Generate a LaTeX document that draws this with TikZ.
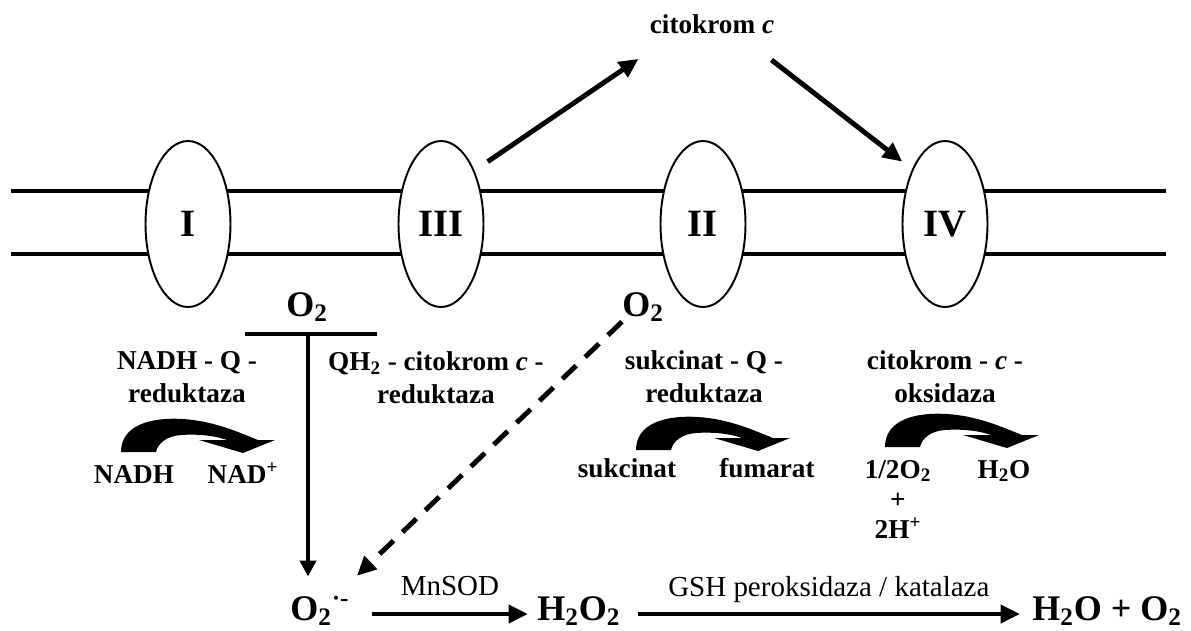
\documentclass[tikz,border=0pt]{standalone}
\usepackage{fontspec}
\setmainfont{Liberation Serif}
\usetikzlibrary{arrows.meta,shapes.geometric}

\begin{document}
\begin{tikzpicture}[x=0.02cm,y=-0.02cm,
  lbl/.style={font=\fontsize{15.5}{18.8}\selectfont\bfseries,align=center,inner sep=0pt},
  chem/.style={font=\fontsize{20.5}{24}\selectfont\bfseries,inner sep=0pt},
  enz/.style={font=\fontsize{16.5}{20}\selectfont,inner sep=0pt},
  complex/.style={draw,ellipse,line width=1.1pt,fill=white,minimum width=1.7cm,
    minimum height=3.32cm,inner sep=0pt,font=\fontsize{22}{26}\selectfont\bfseries},
  membrane/.style={line width=2.3pt},
  flow/.style={line width=2.8pt,-{Triangle[length=11pt,width=10pt]}},
  redox/.pic={\fill (0,0) .. controls (0,-27) and (30,-35) .. (62,-33)
    .. controls (93,-31) and (117,-20) .. (137,-12) -- (154,-12) -- (122,1)
    -- (78,-12) -- (106,-12) .. controls (92,-17) and (74,-18) .. (60,-17)
    .. controls (46,-16) and (37,-9) .. (35,0) -- cycle;}]

  \useasboundingbox (0,0) rectangle (1191,630);

  % membrane with the four complexes
  \draw[membrane] (11,191) -- (1166,191);
  \draw[membrane] (11,254) -- (1166,254);
  \node[complex] (c1) at (188,224) {I};
  \node[complex] (c3) at (441,224) {III};
  \node[complex] (c2) at (703,224) {II};
  \node[complex] (c4) at (945,224) {IV};

  \node[lbl] (cyt) at (712,24) {citokrom \textit{c}};
  \draw[flow] ([shift={(16,-3)}]c3.north east) -- ([shift={(-11,25)}]cyt.south west);
  \draw[flow] ([shift={(-3,26)}]cyt.south east) -- ([shift={(-12,-3)}]c4.north west);

  % enzyme names
  \node[lbl] (nqr) at (187,377) {NADH - Q -\\reduktaza};
  \node[lbl] (qcr) at (436,378) {QH\textsubscript{2} - citokrom \textit{c} -\\reduktaza};
  \node[lbl] (sqr) at (704,377) {sukcinat - Q -\\reduktaza};
  \node[lbl] (cco) at (945,377) {citokrom - \textit{c} -\\oksidaza};

  % reactions
  \pic at (121,452) {redox};
  \node[lbl,anchor=base] (nadh) at (134,483) {NADH};
  \node[lbl,anchor=base] (nad) at (243,483) {NAD\textsuperscript{+}};
  \pic at (636,450) {redox};
  \node[lbl,anchor=base] (suk) at (627,477) {sukcinat};
  \node[lbl,anchor=base] (fum) at (767,477) {fumarat};
  \pic at (885,447) {redox};
  \node[lbl,anchor=base] (hox) at (898,478) {1/2O\textsubscript{2}};
  \node[lbl,anchor=base] (wat) at (1004,478) {H\textsubscript{2}O};
  \node[lbl,anchor=base] (plus) at (898,508) {+};
  \node[lbl,anchor=base] (prot) at (898,538) {2H\textsuperscript{+}};

  % leak of electrons to oxygen
  \node[chem,anchor=base] (oxa) at (307,316) {O\textsubscript{2}};
  \node[chem,anchor=base] (oxb) at (643,316) {O\textsubscript{2}};
  \draw[line width=2.3pt] (245,334) -- (377,334);
  \coordinate (tbar) at (308,334);

  \node[chem,anchor=base west] (superox) at (290,620) {O\textsubscript{2}\textsuperscript{·-}};
  \node[chem,anchor=base west] (pero) at (537,620) {H\textsubscript{2}O\textsubscript{2}};
  \node[chem,anchor=base west] (prod) at (1032,620) {H\textsubscript{2}O + O\textsubscript{2}};

  \draw[line width=2.3pt,-{Triangle[length=9pt,width=9pt]},shorten >=11pt] (tbar) -- (tbar |- superox.north);
  \draw[line width=2.8pt,dash pattern=on 11pt off 7pt,-{Triangle[length=11pt,width=10pt]}]
    (oxb.south west) -- ([shift={(7,-20)}]superox.north east);
  \draw[flow] ([shift={(22,-6)}]superox.base east) -- node[enz,above=9pt] {MnSOD}
    ([shift={(-9,-6)}]pero.base west);
  \draw[flow] ([shift={(17,-6)}]pero.base east) -- node[enz,above=5pt] {GSH peroksidaza / katalaza}
    ([shift={(-12,-6)}]prod.base west);
\end{tikzpicture}
\end{document}
